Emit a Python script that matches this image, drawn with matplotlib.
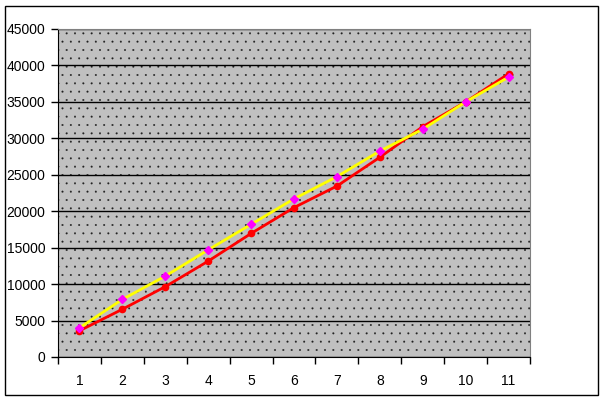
import matplotlib.pyplot as plt
from matplotlib.patches import Rectangle

# categorias y series
categorias = [1, 2, 3, 4, 5, 6, 7, 8, 9, 10, 11]
serie_roja = [3600, 6550, 9650, 13150, 16950, 20500, 23450, 27400, 31600, 35000, 38850]
serie_amarilla = [4000, 7900, 11100, 14700, 18200, 21700, 24750, 28250, 31250, 35000, 38400]

plt.rcParams['font.family'] = ['Liberation Sans', 'DejaVu Sans']
plt.rcParams['hatch.linewidth'] = 0.2

fig = plt.figure(figsize=(6.04, 4.01), dpi=100)
# marco exterior
fig.patches.append(Rectangle((5 / 604, 6 / 401), 593 / 604, 389 / 401, transform=fig.transFigure,
                             fill=False, edgecolor='black', linewidth=1.0))

ax = fig.add_axes([58 / 604, 44 / 401, 472 / 604, 328 / 401])

# fondo gris punteado
ax.set_facecolor('#c0c0c0')
ax.add_patch(Rectangle((0, 0), 1, 1, transform=ax.transAxes, facecolor='none',
                       edgecolor='#202020', hatch='..', linewidth=0, zorder=0))

x = list(range(len(categorias)))
ax.plot(x, serie_roja, color='#ff0000', linewidth=2, marker='o', markersize=4.5,
        markerfacecolor='#ff0000', markeredgecolor='#ff0000', zorder=3)
ax.plot(x, serie_amarilla, color='#ffff00', linewidth=2, zorder=3)
ax.plot(x, serie_amarilla, linestyle='none', marker='D', markersize=4.5,
        markerfacecolor='#ff00ff', markeredgecolor='#ff00ff', zorder=4)

ax.set_xlim(-0.5, len(categorias) - 0.5)
ax.set_ylim(0, 45000)
ax.set_yticks(range(0, 45001, 5000))
ax.yaxis.grid(True, color='black', linewidth=1)
ax.set_axisbelow(True)

ax.set_xticks([i - 0.5 for i in range(len(categorias) + 1)])
ax.set_xticklabels([])
ax.set_xticks(x, minor=True)
ax.set_xticklabels([str(c) for c in categorias], minor=True)
ax.tick_params(axis='x', which='minor', length=0, pad=12, labelsize=10)
ax.tick_params(axis='x', which='major', length=5, width=1, direction='out')
ax.tick_params(axis='y', length=5, width=1, direction='out', labelsize=10, pad=4)

for s in ['top', 'right']:
    ax.spines[s].set_color('#808080')
for s in ['left', 'bottom']:
    ax.spines[s].set_color('black')

fig.savefig('out.png', dpi=100)
